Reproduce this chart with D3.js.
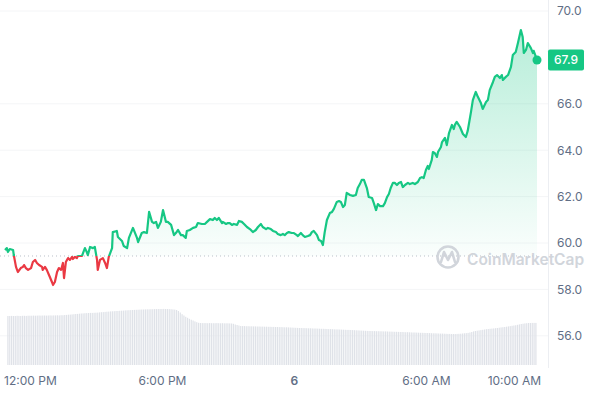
<!DOCTYPE html>
<html>
<head>
<meta charset="utf-8">
<script src="https://cdn.jsdelivr.net/npm/d3@7"></script>
<style>
  body { margin: 0; background: #fff; }
  svg { display: block; font-family: Inter, "Noto Sans", sans-serif; }
</style>
</head>
<body>
<div id="chart"></div>
<script>
// price samples, minutes counted from 12:00 PM of day 5
const minutesFromNoon = [
  -68, -63, -60, -55, -46, -44, -38, -33, -25, -19, -16, -11, -5, 3, 8, 14, 19, 25, 33, 35,
  41, 46, 52, 60, 63, 68, 74, 79, 85, 90, 93, 98, 104, 109, 115, 117, 123, 128, 131, 142,
  145, 150, 155, 158, 164, 172, 177, 183, 185, 191, 199, 205, 210, 215, 224, 226, 237, 240, 251, 256,
  265, 270, 281, 292, 295, 305, 311, 319, 325, 333, 338, 344, 349, 357, 363, 371, 376, 385, 393, 398,
  404, 412, 417, 425, 428, 436, 445, 453, 458, 469, 477, 483, 491, 499, 504, 510, 515, 524, 526, 535,
  540, 545, 551, 556, 565, 570, 578, 584, 592, 600, 608, 616, 622, 630, 635, 644, 649, 657, 663, 671,
  676, 684, 690, 695, 701, 706, 714, 720, 728, 731, 739, 744, 750, 758, 764, 769, 774, 783, 788, 794,
  799, 804, 810, 818, 824, 829, 837, 843, 848, 854, 859, 864, 873, 881, 889, 894, 900, 905, 911, 919,
  924, 933, 938, 944, 949, 955, 963, 968, 974, 979, 984, 990, 995, 1001, 1006, 1012, 1017, 1023, 1031, 1036,
  1044, 1050, 1058, 1064, 1069, 1074, 1080, 1085, 1088, 1096, 1099, 1104, 1110, 1113, 1121, 1124, 1132, 1137, 1143, 1151,
  1156, 1159, 1164, 1173, 1181, 1189, 1194, 1203, 1208, 1216, 1222, 1230, 1235, 1244, 1249, 1254, 1263, 1268, 1274, 1282,
  1287, 1290, 1298, 1304, 1312, 1317, 1325, 1331, 1339, 1344, 1347, 1353, 1358, 1366, 1372, 1374, 1380, 1383
];
const prices = [
  59.70, 59.78, 59.61, 59.74, 59.70, 59.48, 58.97, 58.75, 58.92, 58.97, 59.05, 58.92, 58.84, 58.92, 59.18, 59.27, 59.14, 59.05, 58.97, 58.84,
  58.97, 58.84, 58.62, 58.32, 58.19, 58.32, 58.75, 58.92, 58.84, 59.14, 58.49, 59.18, 59.35, 59.27, 59.40, 59.31, 59.40, 59.35, 59.44, 59.44,
  59.57, 59.78, 59.61, 59.48, 59.83, 59.78, 59.83, 59.27, 58.84, 59.27, 59.35, 59.14, 58.92, 59.40, 59.78, 60.47, 60.52, 60.26, 60.09, 59.87,
  59.78, 60.22, 60.65, 60.22, 60.04, 60.43, 60.47, 60.43, 61.34, 60.91, 60.86, 60.91, 60.65, 60.91, 61.42, 60.91, 60.91, 60.78, 60.34, 60.43,
  60.56, 60.34, 60.34, 60.22, 60.52, 60.56, 60.65, 60.69, 60.86, 60.82, 60.82, 60.91, 61.03, 60.99, 61.08, 60.99, 61.08, 60.86, 60.91, 60.82,
  60.86, 60.86, 60.78, 60.82, 60.78, 60.95, 60.91, 60.82, 60.69, 60.60, 60.47, 60.56, 60.69, 60.82, 60.69, 60.60, 60.65, 60.60, 60.52, 60.47,
  60.39, 60.34, 60.39, 60.34, 60.43, 60.47, 60.43, 60.43, 60.34, 60.30, 60.43, 60.34, 60.26, 60.30, 60.34, 60.47, 60.52, 60.34, 60.13, 60.09,
  59.91, 60.47, 60.99, 61.29, 61.34, 61.47, 61.77, 61.81, 61.77, 61.55, 61.64, 62.16, 62.07, 62.03, 62.07, 62.37, 62.54, 62.72, 62.72, 62.37,
  61.98, 61.94, 61.72, 61.42, 61.68, 61.59, 61.59, 61.72, 61.98, 62.11, 62.37, 62.59, 62.59, 62.50, 62.59, 62.63, 62.41, 62.50, 62.59, 62.54,
  62.59, 62.54, 62.63, 62.80, 62.84, 62.80, 63.15, 63.32, 63.19, 63.58, 63.92, 63.88, 63.71, 63.92, 64.14, 64.35, 64.53, 64.22, 64.74, 65.09,
  64.91, 65.09, 65.22, 65.00, 64.70, 64.57, 64.83, 65.65, 66.16, 66.51, 66.29, 66.03, 65.78, 66.08, 66.16, 66.59, 66.94, 67.16, 67.24, 67.11,
  67.24, 67.03, 67.16, 67.24, 67.59, 68.10, 68.23, 68.62, 69.18, 68.88, 68.19, 68.32, 68.62, 68.41, 68.19, 68.28, 68.02, 67.89
];
const openPrice = 59.44;
const lastPriceLabel = "67.9";

// volume bars every 5 minutes from 11:00 AM (one row per hour)
const volStartMinute = -60;
const volStepMinutes = 5;
const volumes = [
  49.0, 49.0, 49.1, 49.0, 49.0, 49.2, 49.1, 49.0, 49.2, 49.2, 49.1, 49.3,
  49.3, 49.3, 49.4, 49.3, 49.4, 49.5, 49.4, 49.5, 49.5, 49.4, 49.5, 49.6,
  49.5, 49.6, 49.6, 49.7, 49.6, 49.8, 49.8, 50.0, 50.1, 50.3, 50.4, 50.6,
  50.8, 51.0, 51.1, 51.3, 51.5, 51.6, 51.8, 51.9, 52.0, 52.1, 52.1, 52.2,
  52.3, 52.4, 52.6, 52.8, 52.9, 53.1, 53.3, 53.4, 53.6, 53.7, 53.8, 54.0,
  54.0, 54.2, 54.3, 54.4, 54.6, 54.7, 54.8, 54.9, 55.0, 55.1, 55.2, 55.3,
  55.4, 55.5, 55.5, 55.6, 55.7, 55.7, 55.8, 55.8, 55.9, 55.9, 56.0, 56.0,
  56.0, 56.1, 56.0, 56.0, 55.9, 55.8, 55.6, 55.4, 55.0, 54.0, 52.5, 50.8,
  49.5, 48.2, 47.2, 46.2, 45.3, 44.5, 43.6, 42.8, 42.2, 42.0, 41.9, 41.9,
  41.9, 41.8, 41.9, 41.8, 41.8, 41.8, 41.9, 41.8, 41.7, 41.8, 41.7, 41.7,
  41.7, 41.6, 41.5, 41.2, 40.5, 40.0, 39.5, 39.0, 38.9, 38.9, 38.8, 38.8,
  38.7, 38.7, 38.6, 38.6, 38.5, 38.5, 38.4, 38.4, 38.3, 38.3, 38.2, 38.2,
  38.1, 38.1, 38.0, 38.0, 37.9, 37.9, 37.8, 37.7, 37.7, 37.6, 37.5, 37.4,
  37.3, 37.2, 37.1, 37.0, 37.0, 36.9, 36.9, 36.8, 36.7, 36.7, 36.6, 36.5,
  36.5, 36.4, 36.3, 36.2, 36.2, 36.1, 36.0, 35.9, 35.9, 35.8, 35.7, 35.6,
  35.6, 35.5, 35.4, 35.3, 35.2, 35.1, 35.1, 35.0, 34.9, 34.8, 34.7, 34.6,
  34.5, 34.4, 34.3, 34.2, 34.1, 34.0, 34.0, 33.9, 33.9, 33.8, 33.8, 33.7,
  33.7, 33.6, 33.6, 33.5, 33.4, 33.4, 33.3, 33.2, 33.2, 33.1, 33.0, 33.0,
  32.9, 32.8, 32.8, 32.7, 32.6, 32.5, 32.5, 32.4, 32.3, 32.2, 32.2, 32.1,
  32.0, 32.0, 31.9, 31.8, 31.7, 31.7, 31.6, 31.5, 31.4, 31.4, 31.3, 31.2,
  31.1, 31.1, 31.0, 31.0, 31.0, 31.1, 31.2, 31.3, 31.5, 31.7, 31.9, 32.1,
  32.5, 33.0, 33.6, 34.0, 34.3, 34.6, 34.9, 35.2, 35.5, 35.8, 36.0, 36.2,
  36.4, 36.6, 36.8, 37.0, 37.3, 37.6, 37.8, 38.0, 38.3, 38.6, 38.9, 39.2,
  39.5, 39.8, 40.2, 40.6, 41.0, 41.3, 41.6, 41.8, 42.0, 42.0, 42.1, 42.1,
  42.1
];

// 68.0 sits under the price badge, so it is not labelled
const yTicks = [56, 58, 60, 62, 64, 66, 70];
const xTickMinutes = [0, 360, 720, 1080, 1320];
const xTickLabels = ["12:00 PM", "6:00 PM", "6", "6:00 AM", "10:00 AM"];

const width = 600, height = 397;
const green = "#16c784", red = "#ea3943";

const noon = new Date(2024, 2, 5, 12, 0);
const toTime = m => new Date(noon.getTime() + m * 60000);

const data = minutesFromNoon.map((m, i) => ({ t: toTime(m), p: prices[i] }));
const volData = volumes.map((v, i) => ({ t: toTime(volStartMinute + i * volStepMinutes), v: v }));

const x = d3.scaleTime()
  .domain(d3.extent(data, d => d.t))
  .range([5, 537]);
const y = d3.scaleLinear()
  .domain([56, 70])
  .range([335.8, 11]);
const yVol = d3.scaleLinear()
  .domain([0, 60])
  .range([365, 305]);

const svg = d3.select("#chart")
  .append("svg")
  .attr("width", width)
  .attr("height", height);

const defs = svg.append("defs");
const baseY = y(openPrice);

const grad = defs.append("linearGradient")
  .attr("id", "areaGrad")
  .attr("gradientUnits", "userSpaceOnUse")
  .attr("x1", 0).attr("x2", 0)
  .attr("y1", 20).attr("y2", baseY);
grad.append("stop").attr("offset", 0).attr("stop-color", green).attr("stop-opacity", 0.32);
grad.append("stop").attr("offset", 1).attr("stop-color", green).attr("stop-opacity", 0.02);

defs.append("clipPath").attr("id", "clipUp")
  .append("rect").attr("x", 0).attr("y", 0).attr("width", width).attr("height", baseY);
defs.append("clipPath").attr("id", "clipDown")
  .append("rect").attr("x", 0).attr("y", baseY).attr("width", width).attr("height", height - baseY);

// faint grid
svg.append("g")
  .selectAll("line")
  .data(yTicks)
  .enter()
  .append("line")
  .attr("x1", 0).attr("x2", 548)
  .attr("y1", d => y(d)).attr("y2", d => y(d))
  .attr("stroke", "#f4f5f7");

// right divider
svg.append("line")
  .attr("x1", 548.5).attr("x2", 548.5)
  .attr("y1", 0).attr("y2", 368)
  .attr("stroke", "#eceef2");

// volume bars
svg.append("g")
  .selectAll("rect")
  .data(volData)
  .enter()
  .append("rect")
  .attr("x", d => x(d.t) - 0.6)
  .attr("width", 1.2)
  .attr("y", d => yVol(d.v))
  .attr("height", d => yVol(0) - yVol(d.v))
  .attr("fill", "#dfe2e8");

// area above open price
const area = d3.area()
  .x(d => x(d.t))
  .y0(baseY)
  .y1(d => y(d.p));
svg.append("path")
  .datum(data)
  .attr("d", area)
  .attr("clip-path", "url(#clipUp)")
  .attr("fill", "url(#areaGrad)");

// dotted open-price line
svg.append("line")
  .attr("x1", 0).attr("x2", 540)
  .attr("y1", baseY).attr("y2", baseY)
  .attr("stroke", "#b9bfc8")
  .attr("stroke-dasharray", "1,3");

// watermark
const wm = svg.append("g").attr("opacity", 0.9);
wm.append("circle")
  .attr("cx", 448).attr("cy", 257).attr("r", 10.5)
  .attr("fill", "none").attr("stroke", "#cdd1d8").attr("stroke-width", 2.6);
wm.append("path")
  .attr("d", "M441,262 L444,252 L448,260 L452,252 L455,262")
  .attr("fill", "none").attr("stroke", "#cdd1d8").attr("stroke-width", 2.6)
  .attr("stroke-linejoin", "round").attr("stroke-linecap", "round");
wm.append("text")
  .attr("x", 467).attr("y", 265)
  .attr("font-size", 15.5).attr("font-weight", 600)
  .attr("fill", "#cdd1d8")
  .text("CoinMarketCap");

// price line, green above / red below open
const line = d3.line()
  .x(d => x(d.t))
  .y(d => y(d.p));
svg.append("path")
  .datum(data)
  .attr("d", line)
  .attr("clip-path", "url(#clipUp)")
  .attr("fill", "none").attr("stroke", green).attr("stroke-width", 2.2)
  .attr("stroke-linejoin", "round");
svg.append("path")
  .datum(data)
  .attr("d", line)
  .attr("clip-path", "url(#clipDown)")
  .attr("fill", "none").attr("stroke", red).attr("stroke-width", 2.2)
  .attr("stroke-linejoin", "round");

const last = data[data.length - 1];
svg.append("circle")
  .attr("cx", x(last.t)).attr("cy", y(last.p)).attr("r", 4.5)
  .attr("fill", green);

// y axis
const yAxis = svg.append("g")
  .attr("transform", "translate(549,0)")
  .call(d3.axisRight(y).tickValues(yTicks).tickSize(0).tickPadding(8).tickFormat(d3.format(".1f")));
yAxis.select(".domain").remove();
yAxis.selectAll("text")
  .attr("fill", "#616e85")
  .attr("font-size", 12)
  .attr("font-family", "Inter, 'Noto Sans', sans-serif");

// x axis
const xAxis = svg.append("g")
  .attr("transform", "translate(0,365)")
  .call(d3.axisBottom(x).tickValues(xTickMinutes.map(toTime)).tickSize(0).tickPadding(11)
    .tickFormat((d, i) => xTickLabels[i]));
xAxis.select(".domain").remove();
xAxis.selectAll("text")
  .attr("fill", "#616e85")
  .attr("font-size", 12)
  .attr("font-weight", (d, i) => xTickLabels[i] === "6" ? 600 : 400)
  .attr("font-family", "Inter, 'Noto Sans', sans-serif");

// last price badge
svg.append("rect")
  .attr("x", 548).attr("y", y(last.p) - 10.5)
  .attr("width", 36).attr("height", 21).attr("rx", 2)
  .attr("fill", green);
svg.append("text")
  .attr("x", 566).attr("y", y(last.p))
  .attr("dy", "0.35em")
  .attr("text-anchor", "middle")
  .attr("font-size", 12).attr("font-weight", 500)
  .attr("fill", "#fff")
  .text(lastPriceLabel);
</script>
</body>
</html>
